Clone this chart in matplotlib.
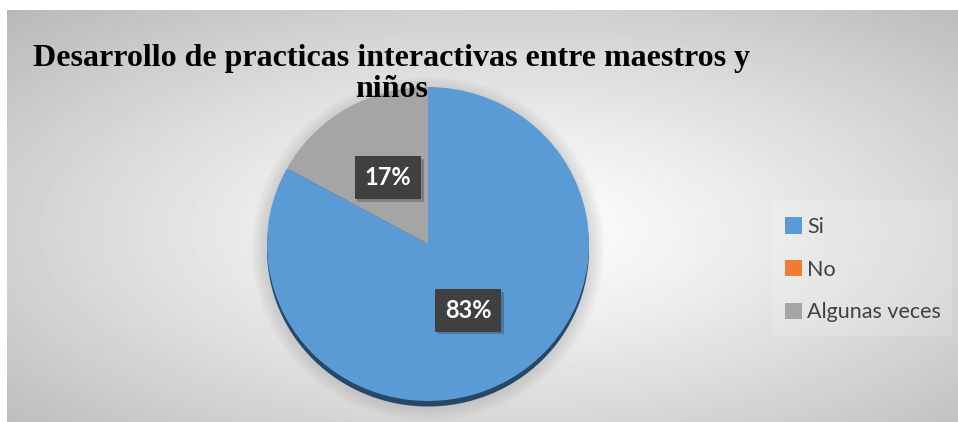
import numpy as np
import matplotlib
matplotlib.use("Agg")
import matplotlib.pyplot as plt
from matplotlib.patches import Ellipse, Patch, Rectangle
from matplotlib import patheffects

# datos (porcentajes)
categorias = ["Si", "No", "Algunas veces"]
valores = [83, 0, 17]
colores = ["#5B9BD5", "#ED7D31", "#A5A5A5"]
titulo = "Desarrollo de practicas interactivas entre maestros y\nniños"

W, H = 958, 422
fig = plt.figure(figsize=(W / 100, H / 100), dpi=100)
fig.patch.set_facecolor("white")

# fondo con degradado radial (blanco al centro, gris en las esquinas)
bg = fig.add_axes([7 / W, 0, (W - 7) / W, (H - 10) / H])
yy, xx = np.mgrid[0:412, 0:951]
r = np.sqrt(((xx - 500) / 475.0) ** 2 + ((yy - 220) / 206.0) ** 2) / np.sqrt(2)
g = 1 - 0.26 * np.clip(r, 0, 1.1) ** 1.2
bg.imshow(g, cmap="gray", vmin=0, vmax=1, aspect="auto", interpolation="bilinear")
bg.axis("off")

# caja clara de la leyenda
fig.patches.append(Rectangle((773 / W, 1 - 336 / H), 179 / W, 136 / H,
                             transform=fig.transFigure, facecolor="white",
                             alpha=0.15, edgecolor="none"))

# pastel
cx, cy, rx, ry = 428, 244, 161, 157
ax = fig.add_axes([(cx - rx) / W, (H - cy - ry) / H, 2 * rx / W, 2 * ry / H])

# sombra suave
for i in range(8):
    s = 1 + (i + 1) * 0.012
    ax.add_patch(Ellipse((0, -0.03), 2 * s, 2 * s, facecolor="#808080",
                         alpha=0.035, edgecolor="none", clip_on=False, zorder=0))
# borde oscuro inferior
ax.add_patch(Ellipse((0, -0.035), 2, 2, facecolor="#264766",
                     edgecolor="none", clip_on=False, zorder=1))


def etiqueta(p):
    return "%d%%" % round(p) if p > 0.5 else ""


wedges, textos, pcts = ax.pie(valores, colors=colores, startangle=90,
                              counterclock=False, autopct=etiqueta,
                              pctdistance=0.49, radius=1,
                              wedgeprops=dict(linewidth=0, zorder=2),
                              textprops=dict(color="white", fontsize=17,
                                             fontweight="bold", family="Lato"))
for w in wedges:
    w.set_zorder(2)
for t in pcts:
    t.set_zorder(5)
    t.set_bbox(dict(boxstyle="square,pad=0.42", facecolor="#404040",
                    edgecolor="none"))
    t.get_bbox_patch().set_path_effects(
        [patheffects.withSimplePatchShadow(offset=(2, -2), shadow_rgbFace="black",
                                           alpha=0.22)])
ax.set_aspect("auto")
ax.set_xlim(-1, 1)
ax.set_ylim(-1, 1)
ax.axis("off")

# titulo
fig.text(392 / W, 1 - 44 / H, titulo, ha="center", va="top",
         fontsize=23, fontweight="bold", family="Liberation Serif",
         linespacing=1.08, color="black")

# leyenda
handles = [Patch(facecolor=c, edgecolor="none") for c in colores]
fig.legend(handles, categorias, loc="upper left",
           bbox_to_anchor=(785 / W, 1 - 217 / H), frameon=False,
           borderpad=0, borderaxespad=0, handlelength=0.78, handleheight=0.78,
           handletextpad=0.25, labelspacing=1.05,
           prop=dict(family="Lato", size=15.5), labelcolor="#404040")

fig.savefig("out.png", dpi=100)
